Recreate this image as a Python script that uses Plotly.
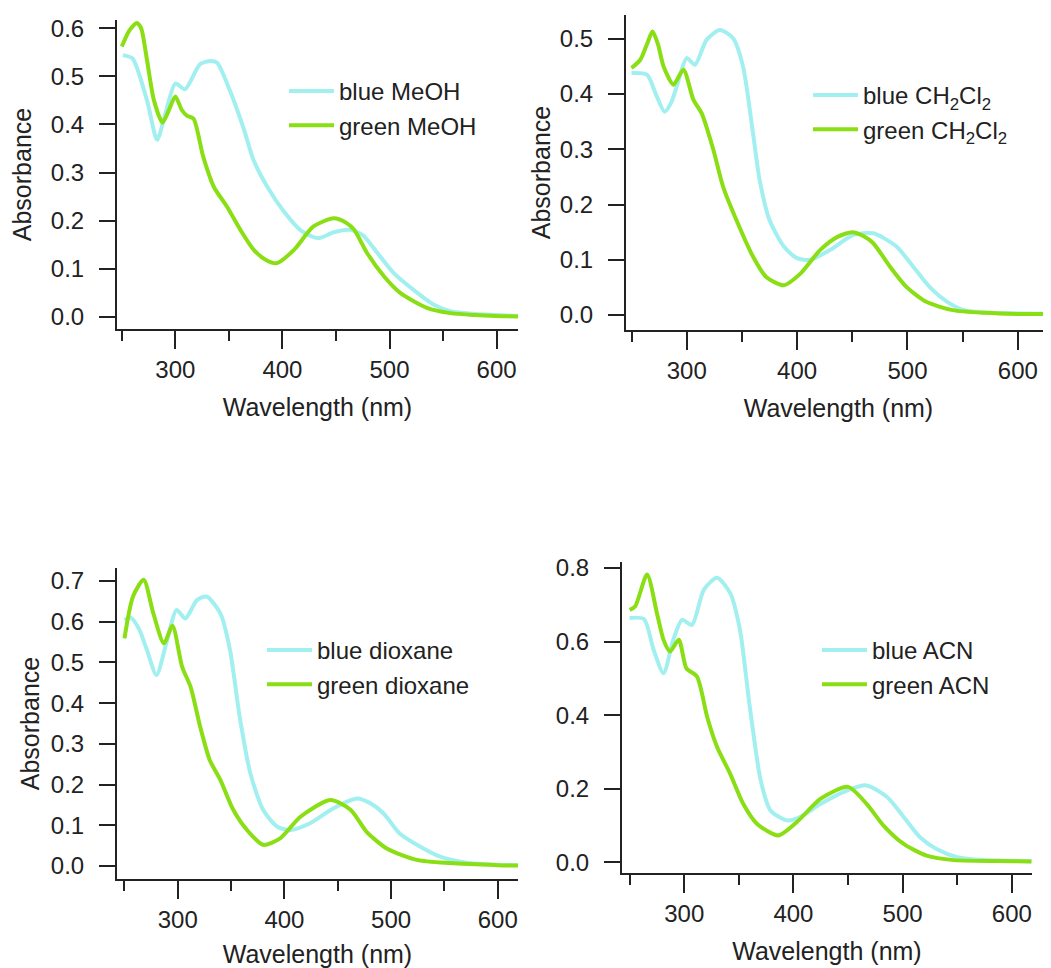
import plotly.graph_objects as go

# ---------------- data ----------------
meoh_blue_nm = [251, 260, 273.5, 283, 290.7, 300, 309, 323, 333, 339, 351, 364, 373, 386, 401, 417, 429, 435, 448, 463, 475, 488, 504, 526, 541, 557, 580, 600, 620]
meoh_blue_abs = [0.544, 0.537, 0.45, 0.368, 0.423, 0.485, 0.473, 0.525, 0.532, 0.528, 0.47, 0.39, 0.326, 0.27, 0.22, 0.18, 0.166, 0.164, 0.176, 0.181, 0.17, 0.135, 0.091, 0.05, 0.026, 0.012, 0.006, 0.004, 0.002]
meoh_green_nm = [250, 257, 264, 268, 273.5, 280, 288, 294, 300, 306, 311, 317, 326, 336, 348, 361, 373, 385, 395, 411, 429, 448, 460, 467, 479, 495, 510, 535, 557, 580, 600, 620]
meoh_green_abs = [0.562, 0.595, 0.611, 0.60, 0.534, 0.45, 0.404, 0.43, 0.458, 0.43, 0.418, 0.412, 0.333, 0.27, 0.23, 0.18, 0.14, 0.118, 0.112, 0.14, 0.188, 0.205, 0.195, 0.181, 0.133, 0.084, 0.05, 0.019, 0.008, 0.004, 0.002, 0.001]

dcm_blue_nm = [250, 264, 272, 280, 286, 291, 300, 307.5, 318, 330, 342, 351, 360, 366, 375, 388, 400, 412, 430, 451, 469, 490, 505, 520, 536, 551, 575, 600, 628]
dcm_blue_abs = [0.438, 0.435, 0.40, 0.368, 0.385, 0.414, 0.465, 0.453, 0.498, 0.516, 0.501, 0.45, 0.33, 0.245, 0.172, 0.124, 0.103, 0.1, 0.118, 0.145, 0.148, 0.124, 0.088, 0.051, 0.024, 0.009, 0.004, 0.003, 0.002]
dcm_green_nm = [250, 258, 264, 269, 274, 279, 288, 297, 306, 313.6, 324, 333, 345, 360, 372, 388, 403, 421, 437, 450, 460, 469, 484, 499, 517, 541, 570, 600, 628]
dcm_green_abs = [0.447, 0.462, 0.49, 0.513, 0.49, 0.45, 0.417, 0.444, 0.39, 0.365, 0.3, 0.232, 0.172, 0.106, 0.069, 0.054, 0.075, 0.118, 0.142, 0.15, 0.143, 0.13, 0.088, 0.051, 0.024, 0.009, 0.004, 0.002, 0.002]

diox_blue_nm = [250, 256, 264, 271, 280, 290, 299, 307, 318, 327, 340, 349, 358, 368, 380, 393, 405, 424, 446, 468, 480, 493, 508, 527, 546, 571, 600, 619]
diox_blue_abs = [0.604, 0.61, 0.58, 0.531, 0.469, 0.555, 0.629, 0.608, 0.653, 0.662, 0.62, 0.53, 0.367, 0.228, 0.138, 0.097, 0.088, 0.105, 0.142, 0.166, 0.155, 0.129, 0.08, 0.048, 0.023, 0.008, 0.003, 0.002]
diox_green_nm = [250, 258, 268, 277, 287, 295, 304, 312, 321, 330, 340, 352, 365, 380, 396, 415, 443, 462, 477, 496, 524, 555, 600, 619]
diox_green_abs = [0.559, 0.662, 0.703, 0.621, 0.547, 0.59, 0.49, 0.44, 0.342, 0.26, 0.211, 0.138, 0.088, 0.052, 0.068, 0.121, 0.162, 0.138, 0.084, 0.043, 0.015, 0.007, 0.002, 0.001]

acn_blue_nm = [250, 263, 272, 281, 290, 298, 307, 318, 330, 342, 351, 360, 370, 379, 394, 406, 425, 449, 467, 486, 501, 516, 531, 550, 575, 600, 618]
acn_blue_abs = [0.664, 0.661, 0.577, 0.514, 0.605, 0.659, 0.645, 0.741, 0.773, 0.732, 0.632, 0.423, 0.223, 0.141, 0.114, 0.123, 0.159, 0.195, 0.209, 0.177, 0.123, 0.068, 0.036, 0.014, 0.006, 0.004, 0.003]
acn_green_nm = [250, 255, 266, 275, 281, 287, 295, 302, 311.6, 321, 330, 342, 354, 366.5, 386, 403, 425, 450, 467, 482.5, 501, 522, 547, 600, 618]
acn_green_abs = [0.686, 0.695, 0.782, 0.677, 0.605, 0.573, 0.605, 0.527, 0.505, 0.395, 0.314, 0.241, 0.159, 0.105, 0.073, 0.109, 0.173, 0.205, 0.159, 0.1, 0.05, 0.018, 0.006, 0.003, 0.002]

legend_names = [
    ["blue MeOH", "green MeOH"],
    ["blue CH<sub>2</sub>Cl<sub>2</sub>", "green CH<sub>2</sub>Cl<sub>2</sub>"],
    ["blue dioxane", "green dioxane"],
    ["blue ACN", "green ACN"],
]
x_major_ticks = [300, 400, 500, 600]
x_minor_ticks = [250, 350, 450, 550]

# ---------------- figure ----------------
OFF = 8                      # the page body has an 8 px margin
W, H = 1051 - OFF, 968 - OFF
BLUE = "#a2eff0"
GREEN = "#8ade14"
FONT = "Liberation Sans, Arial, sans-serif"
TICK_SIZE = 24
TITLE_SIZE = 25
LEG_SIZE = 24

def px_x(p):
    return (p - OFF) / W

def px_y(p):
    return 1 - (p - OFF) / H

panels = [
    dict(b=(meoh_blue_nm, meoh_blue_abs), g=(meoh_green_nm, meoh_green_abs),
         xd=(117, 518), yd=(20, 329), xr=[245.5, 620], yr=[-0.025, 0.617], dt=0.1,
         yt="Absorbance", ys=12, xs=17, leg=(284, 69)),
    dict(b=(dcm_blue_nm, dcm_blue_abs), g=(dcm_green_nm, dcm_green_abs),
         xd=(626, 1051), yd=(15, 330), xr=[245, 630], yr=[-0.027, 0.543], dt=0.1,
         yt="Absorbance", ys=2, xs=17, leg=(808, 73)),
    dict(b=(diox_blue_nm, diox_blue_abs), g=(diox_green_nm, diox_green_abs),
         xd=(117, 518), yd=(568, 879), xr=[243, 619], yr=[-0.032, 0.732], dt=0.1,
         yt="Absorbance", ys=4, xs=18, leg=(262, 628)),
    dict(b=(acn_blue_nm, acn_blue_abs), g=(acn_green_nm, acn_green_abs),
         xd=(622, 1032), yd=(562, 873), xr=[243, 618.5], yr=[-0.029, 0.816], dt=0.2,
         yt=None, ys=0, xs=17, leg=(817, 628)),
]

fig = go.Figure()
layout = dict(
    width=W, height=H,
    margin=dict(l=0, r=0, t=0, b=0, autoexpand=False),
    paper_bgcolor="white", plot_bgcolor="white",
    font=dict(family=FONT, size=TICK_SIZE, color="#222222"),
)

for i, p in enumerate(panels, start=1):
    sfx = "" if i == 1 else str(i)
    leg = "legend" if i == 1 else f"legend{i}"
    for (xs, ys), col, name in [(p["b"], BLUE, legend_names[i - 1][0]), (p["g"], GREEN, legend_names[i - 1][1])]:
        fig.add_trace(go.Scatter(
            x=xs, y=ys, mode="lines", name=name,
            line=dict(color=col, width=4, shape="spline", smoothing=0.7),
            xaxis=f"x{sfx}", yaxis=f"y{sfx}", legend=leg,
        ))
    xa = dict(
        domain=[px_x(p["xd"][0]), px_x(p["xd"][1])], range=p["xr"], anchor=f"y{sfx}",
        automargin=False,
        showline=True, linecolor="#222222", linewidth=2, showgrid=False, zeroline=False,
        tickmode="array", tickvals=x_major_ticks, ticks="outside", ticklen=18, tickwidth=2, tickcolor="#222222",
        ticklabelstandoff=0,
        minor=dict(tickvals=x_minor_ticks, ticks="outside", ticklen=10, tickwidth=2, tickcolor="#222222", showgrid=False),
        title=dict(text="Wavelength (nm)", standoff=p["xs"], font=dict(size=TITLE_SIZE)),
        tickfont=dict(size=TICK_SIZE),
    )
    ya = dict(
        domain=[px_y(p["yd"][1]), px_y(p["yd"][0])], range=p["yr"], anchor=f"x{sfx}",
        automargin=False,
        showline=True, linecolor="#222222", linewidth=2, showgrid=False, zeroline=False,
        dtick=p["dt"], tick0=0, tickformat=".1f", ticks="outside", ticklen=16, tickwidth=2, tickcolor="#222222",
        ticklabelstandoff=10,
        tickfont=dict(size=TICK_SIZE),
    )
    if p["yt"]:
        ya["title"] = dict(text=p["yt"], standoff=p["ys"], font=dict(size=TITLE_SIZE))
    layout[f"xaxis{sfx}"] = xa
    layout[f"yaxis{sfx}"] = ya
    layout[leg] = dict(
        x=px_x(p["leg"][0]), y=px_y(p["leg"][1]), xanchor="left", yanchor="top",
        bgcolor="rgba(0,0,0,0)", borderwidth=0, font=dict(size=LEG_SIZE, color="#222222"),
        itemwidth=45, tracegroupgap=0,
    )

fig.update_layout(**layout)
fig.write_html("out.html")
